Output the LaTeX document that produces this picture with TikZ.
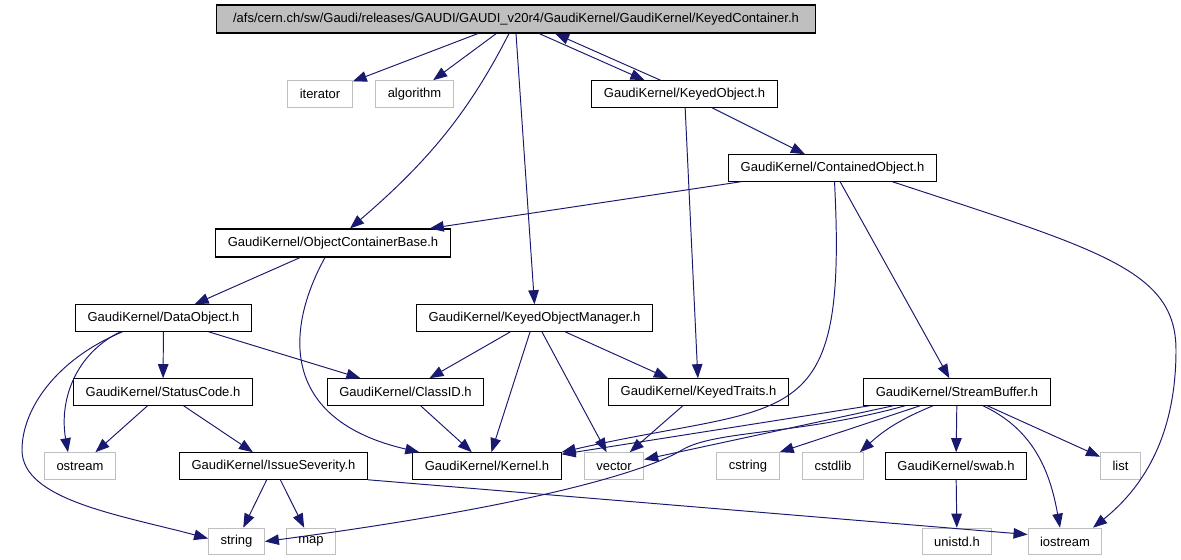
\documentclass[tikz,border=0pt]{standalone}
\usepackage{fontspec}
\setmainfont{Liberation Sans}
\usetikzlibrary{arrows.meta,calc}
\definecolor{edgeblue}{HTML}{191970}
\definecolor{extgray}{HTML}{BFBFBF}
\tikzset{
  hdr/.style={draw=black, line width=0.6pt, fill=white, font=\fontsize{7.4}{9}\selectfont,
    inner xsep=6.8pt, inner ysep=0pt, minimum height=0.53cm},
  sys/.style={hdr, draw=extgray},
  root/.style={hdr, fill=extgray, minimum height=0.56cm, minimum width=12cm},
  inc/.style={->, >={Triangle[length=8pt,width=6pt]}, draw=edgeblue, line width=0.55pt},
}
\begin{document}
\begin{tikzpicture}[x=0.02cm, y=0.02cm]
\useasboundingbox (0,0) rectangle (1181,-560);

\node(top) at (516,-19) [root] {/afs/cern.ch/sw/Gaudi/releases/GAUDI/GAUDI\_v20r4/GaudiKernel/GaudiKernel/KeyedContainer.h};

\node(iter) at (320,-94) [sys] {iterator};
\node(algo) at (414.5,-94) [sys] {algorithm};
\node(kobj) at (684.5,-94) [hdr] {GaudiKernel/KeyedObject.h};
\node(cobj) at (832.5,-168) [hdr] {GaudiKernel/ContainedObject.h};
\node(ocb) at (333,-243) [hdr, minimum height=0.56cm] {GaudiKernel/ObjectContainerBase.h};
\node(dobj) at (163.5,-318) [hdr] {GaudiKernel/DataObject.h};
\node(kom) at (534.5,-318) [hdr] {GaudiKernel/KeyedObjectManager.h};
\node(scode) at (163,-392) [hdr] {GaudiKernel/StatusCode.h};
\node(classid) at (405.5,-392) [hdr] {GaudiKernel/ClassID.h};
\node(ktraits) at (698.5,-392) [hdr] {GaudiKernel/KeyedTraits.h};
\node(sbuf) at (957,-392) [hdr] {GaudiKernel/StreamBuffer.h};

\node(ostream) at (80,-466) [sys] {ostream};
\node(issue) at (273.5,-466) [hdr] {GaudiKernel/IssueSeverity.h};
\node(kernel) at (487,-466) [hdr] {GaudiKernel/Kernel.h};
\node(vector) at (614,-466) [sys] {vector};
\node(cstring) at (748,-466) [sys] {cstring};
\node(cstdlib) at (833,-466) [sys] {cstdlib};
\node(swab) at (956,-466) [hdr] {GaudiKernel/swab.h};
\node(list) at (1120.5,-466) [sys] {list};

\node(string) at (236.5,-541.5) [sys] {string};
\node(map) at (311,-541.5) [sys] {map};
\node(unistd) at (957,-541.5) [sys] {unistd.h};
\node(iostream) at (1065,-541.5) [sys] {iostream};

% KeyedContainer.h
\draw[inc] (top) to (iter);
\draw[inc] (top) to (algo);
\draw[inc] ($(top.south)+(-7,0)$) .. controls (470,-110) and (430,-160) .. ($(ocb.north)+(17,0)$);
\draw[inc] (top.south) to (kom.north);
\draw[inc] ($(top.south)+(23,0)$) to ($(kobj.north)+(-40,0)$);
\draw[inc] ($(kobj.north)+(-24,0)$) to ($(top.south)+(39,0)$);

% KeyedObject.h, ContainedObject.h
\draw[inc] (kobj) to (cobj);
\draw[inc] (kobj) to (ktraits);
\draw[inc] (cobj) to (ocb);
\draw[inc] ($(cobj.south)+(2,0)$) .. controls (848,-440) and (790,-400) .. (kernel.north east);
\draw[inc] (cobj) to (sbuf);
\draw[inc] ($(cobj.south)+(60,0)$) .. controls (1100,-250) and (1176,-270) .. (1176,-350)
  .. controls (1176,-440) and (1140,-490) .. ($(iostream.north)+(28,0)$);

% ObjectContainerBase.h, DataObject.h
\draw[inc] (ocb) to (dobj);
\draw[inc] ($(ocb.south)+(-8,0)$) .. controls (285,-330) and (280,-420) .. ($(kernel.north west)+(7,0)$);
\draw[inc] (dobj) to (scode);
\draw[inc] (dobj) to (classid);
\draw[inc] ($(dobj.south)+(-43,0)$) to[out=206,in=100] ($(ostream.north)+(-12,0)$);
\draw[inc] ($(dobj.south)+(-41,0)$) .. controls (55,-360) and (22,-410) .. (22,-450)
  .. controls (22,-500) and (120,-515) .. ($(string.west)+(0,3)$);

% KeyedObjectManager.h
\draw[inc] (kom) to (classid);
\draw[inc] (kom) to (kernel);
\draw[inc] (kom) to (vector);
\draw[inc] (kom) to (ktraits);

\draw[inc] (scode) to (ostream);
\draw[inc] (scode) to (issue);
\draw[inc] (classid) to (kernel);
\draw[inc] (ktraits) to (vector);
\draw[inc] (issue) to (string);
\draw[inc] (issue) to (map);
\draw[inc] (issue.south east) to ($(iostream.west)+(0,7)$);

% StreamBuffer.h
\draw[inc] (sbuf) to (kernel);
\draw[inc] (sbuf) to (vector);
\draw[inc] ($(sbuf.south)+(-52,0)$) .. controls (800,-435) and (715,-430) .. (682,-450)
  .. controls (649,-470) and (540,-505) .. (string.east);
\draw[inc] ($(sbuf.south)+(-37,0)$) to (cstring.north east);
\draw[inc] ($(sbuf.south)+(-24,0)$) to[bend right=10] ($(cstdlib.north east)+(-4,0)$);
\draw[inc] (sbuf) to (swab);
\draw[inc] ($(sbuf.south)+(26,0)$) to[out=-25,in=100] ($(iostream.north)+(-5,0)$);
\draw[inc] (sbuf) to (list);
\draw[inc] (swab) to (unistd);

\end{tikzpicture}
\end{document}
